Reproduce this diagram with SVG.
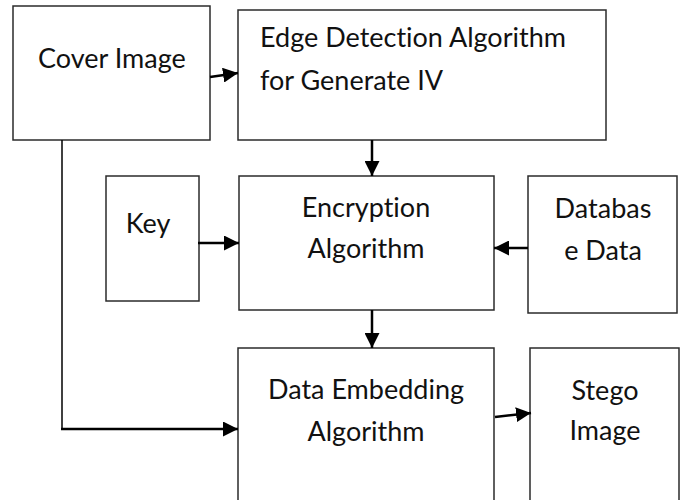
<svg xmlns="http://www.w3.org/2000/svg" width="683" height="500" viewBox="0 0 683 500">
  <style>
    .box { fill: #ffffff; stroke: #2b2b2b; stroke-width: 1.5; }
    .lbl { font-family: Lato, "Liberation Sans", sans-serif; font-size: 27px; fill: #111111; font-variant-ligatures: none; }
    .mid { text-anchor: middle; }
    .wire { fill: none; stroke: #000000; stroke-width: 2.5; }
    .thin { fill: none; stroke: #000000; stroke-width: 1.5; }
  </style>
  <defs>
    <marker id="head" markerUnits="userSpaceOnUse" markerWidth="16" markerHeight="15" refX="15" refY="7.5" orient="auto">
      <path d="M0,0 L15,7.5 L0,15 Z" fill="#000000"/>
    </marker>
  </defs>
  <rect width="683" height="500" fill="#ffffff"/>

  <g id="cover-image">
    <rect class="box" x="13" y="6" width="197" height="134"/>
    <text class="lbl" x="38" y="68">Cover Image</text>
  </g>

  <g id="edge-detection">
    <rect class="box" x="238" y="10" width="368" height="130"/>
    <text class="lbl" x="260" y="47">Edge Detection Algorithm</text>
    <text class="lbl" x="260" y="90">for Generate IV</text>
  </g>

  <g id="key">
    <rect class="box" x="106" y="176" width="93" height="125"/>
    <text class="lbl mid" x="148" y="233">Key</text>
  </g>

  <g id="encryption">
    <rect class="box" x="239" y="176" width="255" height="134"/>
    <text class="lbl mid" x="366" y="217">Encryption</text>
    <text class="lbl mid" x="366" y="258">Algorithm</text>
  </g>

  <g id="database-data">
    <rect class="box" x="528" y="176" width="149" height="137"/>
    <text class="lbl mid" x="603" y="218">Databas</text>
    <text class="lbl mid" x="603" y="260">e Data</text>
  </g>

  <g id="data-embedding">
    <path class="box" d="M238,501 L238,348 L494,348 L494,501"/>
    <text class="lbl mid" x="366" y="399">Data Embedding</text>
    <text class="lbl mid" x="366" y="441">Algorithm</text>
  </g>

  <g id="stego-image">
    <path class="box" d="M530,501 L530,348 L679,348 L679,501"/>
    <text class="lbl mid" x="605" y="400">Stego</text>
    <text class="lbl mid" x="605" y="440">Image</text>
  </g>

  <g id="connectors">
    <line class="wire" x1="210" y1="77" x2="238" y2="73" marker-end="url(#head)"/>
    <line class="wire" x1="372" y1="140" x2="372" y2="176" marker-end="url(#head)"/>
    <line class="wire" x1="198" y1="243" x2="239" y2="243" marker-end="url(#head)"/>
    <line class="wire" x1="528" y1="248" x2="494" y2="248" marker-end="url(#head)"/>
    <line class="wire" x1="372" y1="310" x2="372" y2="348" marker-end="url(#head)"/>
    <path class="thin" d="M62,140 L62,429"/>
    <line class="wire" x1="61" y1="429" x2="238" y2="429" marker-end="url(#head)"/>
    <line class="wire" x1="495" y1="417" x2="531" y2="413" marker-end="url(#head)"/>
  </g>
</svg>
